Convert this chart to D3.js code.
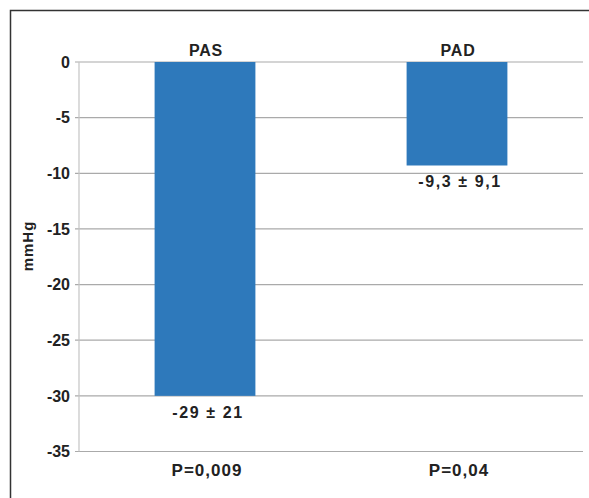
<!DOCTYPE html>
<html><head><meta charset="utf-8">
<script src="https://cdn.jsdelivr.net/npm/d3@7"></script>
<style>body{margin:0;background:#fff}text{font-family:"Liberation Sans",Arial,sans-serif;font-weight:bold;fill:#222}</style>
</head><body><svg id="c" width="589" height="498"></svg>
<script>
const categories = ["PAS", "PAD"];
const values = [-30, -9.3];
const valueLabels = ["-29 \u00b1 21", "-9,3 \u00b1 9,1"];
const pLabels = ["P=0,009", "P=0,04"];
const yTicks = [0, -5, -10, -15, -20, -25, -30, -35];

const svg = d3.select("#c");
const m = {l:79, r:583, t:62, b:451.5};
const x = d3.scaleBand().domain(categories).range([m.l, m.r]).paddingInner(0.6).paddingOuter(0.3);
const y = d3.scaleLinear().domain([0, -35]).range([m.t, m.b]);

// frame (left & top)
svg.append("path").attr("d","M10.5,498 V10.5 H589").attr("fill","none").attr("stroke","#333").attr("stroke-width",1.5);

// grid
svg.append("g").selectAll("line").data(yTicks).join("line")
  .attr("x1", m.l-4).attr("x2", m.r).attr("y1", d=>y(d)).attr("y2", d=>y(d))
  .attr("stroke","#aaa").attr("stroke-width",1.2);
svg.append("line").attr("x1",m.l).attr("x2",m.l).attr("y1",m.t).attr("y2",m.b).attr("stroke","#c4c4c4").attr("stroke-width",1.2);

// y tick labels
svg.append("g").selectAll("text").data(yTicks).join("text")
  .attr("x", 70).attr("y", d=>y(d)).attr("dy","0.36em").attr("text-anchor","end")
  .attr("font-size",16).text(d=>d);

// bars
svg.append("g").selectAll("rect").data(categories).join("rect")
  .attr("x", d=>x(d)).attr("width", x.bandwidth())
  .attr("y", (d,i)=>y(0)).attr("height",(d,i)=>y(values[i])-y(0))
  .attr("fill","#2e79bb");

// category labels
svg.append("g").selectAll("text").data(categories).join("text")
  .attr("x", d=>x(d)+x.bandwidth()/2+1).attr("y", y(0)-12).attr("dy","0.36em")
  .attr("text-anchor","middle").attr("font-size",16).attr("letter-spacing","0.8").text(d=>d);

// value labels
svg.append("g").selectAll("text").data(categories).join("text")
  .attr("x", d=>x(d)+x.bandwidth()/2+3).attr("y", (d,i)=>y(values[i])+16).attr("dy","0.36em")
  .attr("text-anchor","middle").attr("font-size",16).attr("letter-spacing","1.6").text((d,i)=>valueLabels[i]);

// p labels
svg.append("g").selectAll("text").data(categories).join("text")
  .attr("x", d=>x(d)+x.bandwidth()/2+2).attr("y", y(-35)+18).attr("dy","0.36em")
  .attr("text-anchor","middle").attr("font-size",17).attr("letter-spacing","1").text((d,i)=>pLabels[i]);

// y title
svg.append("text").attr("transform","translate(28,246) rotate(-90)").attr("dy","0.36em")
  .attr("text-anchor","middle").attr("font-size",15).attr("letter-spacing","1").text("mmHg");
</script></body></html>
